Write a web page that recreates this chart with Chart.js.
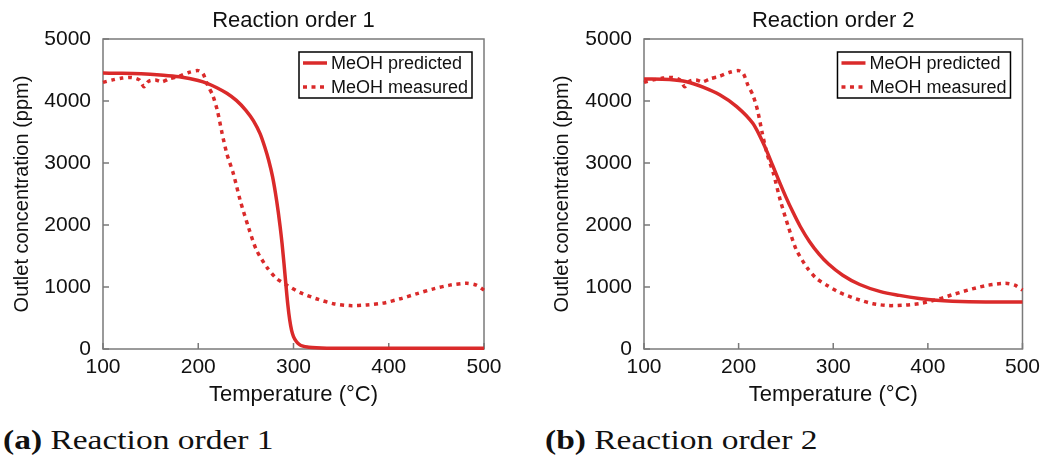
<!DOCTYPE html>
<html>
<head>
<meta charset="utf-8">
<script src="https://cdn.jsdelivr.net/npm/chart.js@4.4.1/dist/chart.umd.min.js"></script>
<style>
  body { margin: 0; background: #fff; }
  #wrap { position: relative; width: 1046px; height: 455px; overflow: hidden; }
  canvas { position: absolute; top: 0; }
  .cap { position: absolute; top: 427px; font-family: "Liberation Serif", serif; font-size: 27px; line-height: 27px;
         color: #111; white-space: nowrap; transform-origin: 0 0; transform: scaleX(1.24); }
  .cap b { font-weight: bold; }
</style>
</head>
<body>
<div id="wrap">
  <canvas id="order1" width="520" height="412" style="left:0;width:520px;height:412px"></canvas>
  <canvas id="order2" width="526" height="412" style="left:520px;width:526px;height:412px"></canvas>
  <div class="cap" style="left:3px"><b>(a)</b> Reaction order 1</div>
  <div class="cap" style="left:545px"><b>(b)</b> Reaction order 2</div>
</div>
<script>
'use strict';

// measured outlet MeOH (same experiment in both panels)
var measTemp = [100,110,120,130,138,143,148,155,162,170,180,190,200,205,210,215,220,225,230,237,244,253,261,272,282,293,307,324,342,359,377,394,412,429,447,464,482,492,500];
var measPpm  = [4300,4340,4370,4380,4340,4230,4320,4340,4310,4360,4400,4460,4490,4440,4250,4100,3850,3480,3150,2820,2400,1950,1600,1320,1140,1030,910,810,730,700,710,740,810,890,970,1030,1060,1030,950];

// model, reaction order 1
var pred1Temp = [100,120,140,160,180,200,210,220,230,240,250,258,265,270,274,278,281,284,286,288,290,292,294,296,298,300,303,306,310,316,324,335,360,500];
var pred1Ppm  = [4450,4448,4440,4420,4390,4330,4280,4210,4125,4010,3850,3680,3470,3250,3040,2780,2520,2210,1970,1700,1380,1040,720,470,300,200,120,75,45,30,20,14,12,12];

// model, reaction order 2
var pred2Temp = [100,127,145,163,180,198,215,222,229,236,243,250,257,265,275,285,295,310,328,350,370,391,409,426,461,500];
var pred2Ppm  = [4355,4345,4310,4220,4100,3910,3640,3450,3220,2960,2700,2450,2220,1980,1730,1530,1370,1190,1040,925,865,815,785,770,760,760];

var xTicks = [100,200,300,400,500];
var yTicks = [0,1000,2000,3000,4000,5000];

var red = '#da2a2a';
var axisGrey = '#7a7a7a';
var txt = '#111';
var sans = '"Liberation Sans", Arial, sans-serif';

function toPts(xs, ys) {
	return xs.map(function(x, i) { return {x: x, y: ys[i]}; });
}

// frame + inward ticks under the lines, title + boxed legend on top
var framePlugin = {
	id: 'frame',
	beforeDatasetsDraw: function(chart) {
		var ctx = chart.ctx, a = chart.chartArea;
		var xs = chart.scales.x, ys = chart.scales.y;
		ctx.save();
		ctx.strokeStyle = axisGrey;
		ctx.lineWidth = 1.5;
		ctx.strokeRect(a.left, a.top, a.right - a.left, a.bottom - a.top);
		ctx.beginPath();
		xTicks.forEach(function(v) {
			var px = xs.getPixelForValue(v);
			ctx.moveTo(px, a.bottom); ctx.lineTo(px, a.bottom - 6);
		});
		yTicks.forEach(function(v) {
			var py = ys.getPixelForValue(v);
			ctx.moveTo(a.left, py); ctx.lineTo(a.left + 6, py);
		});
		ctx.stroke();
		ctx.restore();
	},
	afterDatasetsDraw: function(chart) {
		var ctx = chart.ctx, a = chart.chartArea;
		var o = chart.options.plugins.frame;
		ctx.save();
		ctx.fillStyle = txt;
		ctx.font = '22px ' + sans;
		ctx.textAlign = 'center';
		ctx.textBaseline = 'middle';
		ctx.fillText(o.title, (a.left + a.right) / 2, 21);

		var bw = 173, bh = 46;
		var bx = a.right - 12 - bw, by = a.top + 13;
		ctx.fillStyle = '#fff';
		ctx.fillRect(bx, by, bw, bh);
		ctx.strokeStyle = '#000';
		ctx.lineWidth = 1.5;
		ctx.strokeRect(bx, by, bw, bh);
		ctx.font = '18px ' + sans;
		ctx.textAlign = 'left';
		chart.data.datasets.forEach(function(ds, i) {
			var cy = by + 11 + i * 24;
			ctx.strokeStyle = ds.borderColor;
			ctx.lineWidth = ds.borderWidth;
			ctx.setLineDash(ds.borderDash || []);
			ctx.beginPath();
			ctx.moveTo(bx + 4, cy); ctx.lineTo(bx + 28, cy);
			ctx.stroke();
			ctx.setLineDash([]);
			ctx.fillStyle = txt;
			ctx.fillText(ds.label, bx + 32, cy + 1);
		});
		ctx.restore();
	}
};

function makeChart(id, predT, predY, title, plotLeft, padRight, yTitlePad) {
	var el = document.getElementById(id);
	return new Chart(el.getContext('2d'), {
		type: 'line',
		data: {
			datasets: [{
				label: 'MeOH predicted',
				data: toPts(predT, predY),
				borderColor: red,
				borderWidth: 3.5,
				pointRadius: 0,
				cubicInterpolationMode: 'monotone',
				clip: 4
			}, {
				label: 'MeOH measured',
				data: toPts(measTemp, measPpm),
				borderColor: red,
				borderWidth: 3.5,
				borderDash: [4, 4.5],
				borderCapStyle: 'butt',
				pointRadius: 0,
				tension: 0.25,
				clip: 4
			}]
		},
		options: {
			responsive: false,
			animation: false,
			layout: { padding: { left: 0, right: padRight, top: 39, bottom: 0 } },
			plugins: {
				legend: { display: false },
				title: { display: false },
				tooltip: { enabled: false },
				frame: { title: title }
			},
			scales: {
				x: {
					type: 'linear', min: 100, max: 500,
					afterFit: function(s) { s.height = 63; },
					afterBuildTicks: function(s) { s.ticks = xTicks.map(function(v) { return {value: v}; }); },
					grid: { display: false, drawTicks: false },
					border: { display: false },
					ticks: { color: txt, padding: 6, maxRotation: 0, font: { size: 21, family: sans },
						callback: function(v) { return String(v); } },
					title: { display: true, text: 'Temperature (°C)', color: txt, padding: { top: 0, bottom: 4 },
						font: { size: 22, family: sans } }
				},
				y: {
					type: 'linear', min: 0, max: 5000,
					afterFit: function(s) { s.width = plotLeft; },
					afterBuildTicks: function(s) { s.ticks = yTicks.map(function(v) { return {value: v}; }); },
					grid: { display: false, drawTicks: false },
					border: { display: false },
					ticks: { color: txt, padding: 12, font: { size: 21, family: sans },
						callback: function(v) { return String(v); } },
					title: { display: true, text: 'Outlet concentration (ppm)', color: txt, padding: { top: yTitlePad, bottom: 0 },
						font: { size: 20, family: sans } }
				}
			}
		},
		plugins: [framePlugin]
	});
}

makeChart('order1', pred1Temp, pred1Ppm, 'Reaction order 1', 103, 36, 10);
makeChart('order2', pred2Temp, pred2Ppm, 'Reaction order 2', 124, 23, 30);
</script>
</body>
</html>
